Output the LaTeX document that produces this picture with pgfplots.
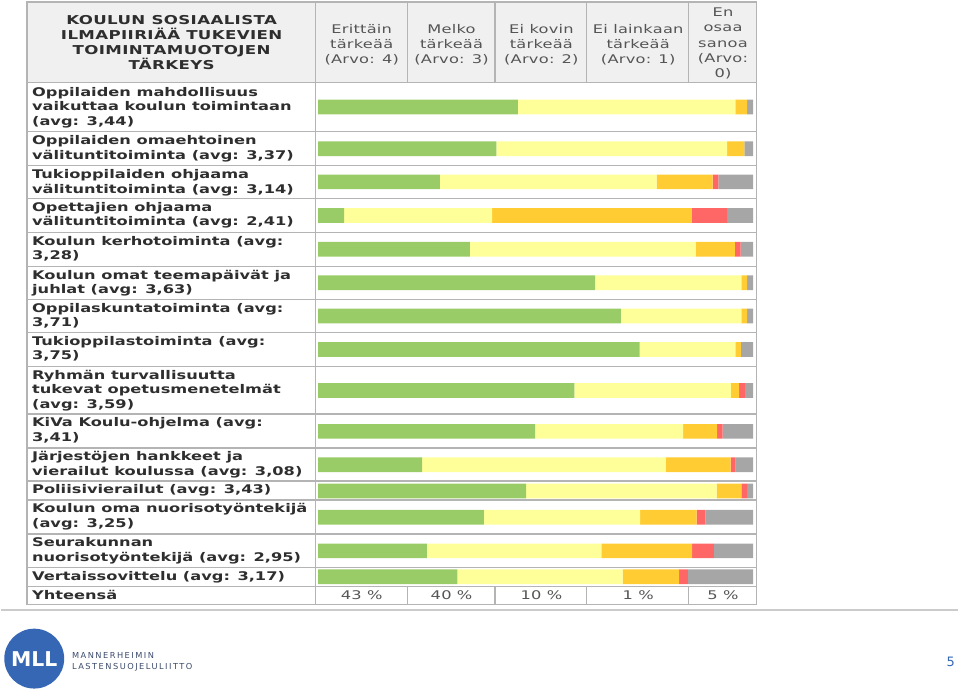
\documentclass[border=0pt]{standalone}
\usepackage{fontspec}
\setmainfont{DejaVu Sans}
\usepackage{pgfplots}
\usepackage{pgfplotstable}
\pgfplotsset{compat=1.18}
\definecolor{cgreen}{HTML}{99CC66}
\definecolor{cyellow}{HTML}{FFFF99}
\definecolor{corange}{HTML}{FFCC33}
\definecolor{cred}{HTML}{FF6666}
\definecolor{cgray}{HTML}{A6A6A6}
\definecolor{gridc}{HTML}{B4B4B4}
\definecolor{hdr}{HTML}{F0F0F0}
\definecolor{txt}{HTML}{2E2E2E}
\definecolor{htxt}{HTML}{555555}
\definecolor{mllblue}{HTML}{3567B5}
\definecolor{mlltxt}{HTML}{3B4A6B}
\newfontfamily\lblfamily[FakeStretch=1.36]{DejaVu Sans}
\newfontfamily\hdrfamily[FakeStretch=1.36, LetterSpace=3]{DejaVu Sans}
\newfontfamily\colfamily[FakeStretch=1.36, LetterSpace=2]{DejaVu Sans}
\newfontfamily\logofamily[LetterSpace=18]{DejaVu Sans}
\newcommand{\lbl}{\lblfamily\bfseries\fontsize{12}{14.7}\selectfont}
\newcommand{\hdrl}{\hdrfamily\bfseries\fontsize{12.3}{15}\selectfont}
\newcommand{\hlbl}{\colfamily\fontsize{12}{15.2}\selectfont}

\pgfplotstableread{
yimg  green yellow orange red gray
107.3 45.9 50.0 2.7 0 1.4
149.0 41.0 53.0 4.0 0 2.0
182.3 28.0 49.8 12.9 1.3 8.0
216.0 6.0 34.0 45.9 8.1 6.0
249.7 34.9 51.9 9.0 1.3 2.9
283.3 63.7 33.6 1.3 0 1.4
316.7 69.6 27.7 1.3 0 1.4
350.3 73.9 22.0 1.3 0 2.8
391.3 58.9 36.0 1.9 1.3 1.9
432.3 49.9 34.0 7.8 1.3 7.0
465.7 23.9 56.0 14.9 1.2 4.0
492.0 47.8 43.8 5.7 1.3 1.4
518.3 38.1 35.9 13.0 2.0 11.0
552.0 25.0 40.1 20.9 5.0 9.0
578.0 32.0 38.0 13.0 2.0 15.0
}\data

\begin{document}
\begin{tikzpicture}[x=1bp,y=1bp]
\path (0,0) rectangle (959,695);
% header background
\fill[hdr] (26,695-2) rectangle (757,695-83);

\begin{axis}[at={(317.7bp,89bp)}, anchor=south west, scale only axis,
  width=436bp, height=523bp, xmin=0, xmax=100, ymin=89, ymax=612,
  axis lines=none, xbar stacked, bar width=14.7, clip=false]
\addplot[fill=cgreen, draw=none] table[x=green, y expr=695-\thisrow{yimg}] {\data};
\addplot[fill=cyellow, draw=none] table[x=yellow, y expr=695-\thisrow{yimg}] {\data};
\addplot[fill=corange, draw=none] table[x=orange, y expr=695-\thisrow{yimg}] {\data};
\addplot[fill=cred, draw=none] table[x=red, y expr=695-\thisrow{yimg}] {\data};
\addplot[fill=cgray, draw=none] table[x=gray, y expr=695-\thisrow{yimg}] {\data};
\end{axis}

% grid
\begin{scope}[draw=gridc, line width=1.3bp]
\draw (26,695-2) rectangle (757,695-606);
\draw (315,695-2) -- (315,695-606);
\foreach \r in {83,132,166,199,233,267,300,333,367,415,449,482,501,535,569,588}
  \draw (26,695-\r) -- (757,695-\r);
\foreach \c in {407,495,587,689} {
  \draw (\c,695-2) -- (\c,695-83);
  \draw (\c,695-588) -- (\c,695-606);
}
\end{scope}

% header texts
\node[align=center, font=\hdrl, text=txt, anchor=north, inner sep=0] at (171,695-15.5) {KOULUN SOSIAALISTA\\ILMAPIIRIÄÄ TUKEVIEN\\TOIMINTAMUOTOJEN\\TÄRKEYS};
\begin{scope}[every node/.style={align=center, font=\hlbl, text=htxt, anchor=north, inner sep=0}]
\node at (361.5,695-24) {Erittäin\\tärkeää\\(Arvo: 4)};
\node at (451.5,695-24) {Melko\\tärkeää\\(Arvo: 3)};
\node at (541.5,695-24) {Ei kovin\\tärkeää\\(Arvo: 2)};
\node at (638.5,695-24) {Ei lainkaan\\tärkeää\\(Arvo: 1)};
\node at (723.5,695-8) {En\\osaa\\sanoa\\(Arvo:\\0)};
\end{scope}

% row labels
\begin{scope}[every node/.style={align=left, font=\lbl, text=txt, anchor=north west, inner sep=0}]
\node at (31,695-87) {Oppilaiden mahdollisuus\\vaikuttaa koulun toimintaan\\(avg: 3,44)};
\node at (31,695-135.5) {Oppilaiden omaehtoinen\\välituntitoiminta (avg: 3,37)};
\node at (31,695-169.5) {Tukioppilaiden ohjaama\\välituntitoiminta (avg: 3,14)};
\node at (31,695-202.5) {Opettajien ohjaama\\välituntitoiminta (avg: 2,41)};
\node at (31,695-236.5) {Koulun kerhotoiminta (avg:\\3,28)};
\node at (31,695-270.5) {Koulun omat teemapäivät ja\\juhlat (avg: 3,63)};
\node at (31,695-303.5) {Oppilaskuntatoiminta (avg:\\3,71)};
\node at (31,695-336.5) {Tukioppilastoiminta (avg:\\3,75)};
\node at (31,695-370.5) {Ryhmän turvallisuutta\\tukevat opetusmenetelmät\\(avg: 3,59)};
\node at (31,695-418.5) {KiVa Koulu-ohjelma (avg:\\3,41)};
\node at (31,695-452.5) {Järjestöjen hankkeet ja\\vierailut koulussa (avg: 3,08)};
\node at (31,695-485.5) {Poliisivierailut (avg: 3,43)};
\node at (31,695-504.5) {Koulun oma nuorisotyöntekijä\\(avg: 3,25)};
\node at (31,695-538.5) {Seurakunnan\\nuorisotyöntekijä (avg: 2,95)};
\node at (31,695-572.5) {Vertaissovittelu (avg: 3,17)};
\node at (31,695-591.5) {Yhteensä};
\end{scope}

% totals
\begin{scope}[every node/.style={font=\hlbl, text=htxt, anchor=base, inner sep=0}]
\node at (361.5,695-600.5) {43 \%};
\node at (451.5,695-600.5) {40 \%};
\node at (541.5,695-600.5) {10 \%};
\node at (638.5,695-600.5) {1 \%};
\node at (723.5,695-600.5) {5 \%};
\end{scope}

% footer
\draw[draw=gridc!70, line width=2bp] (0,695-611) -- (959,695-611);
\fill[mllblue] (33.3,695-660) circle (30);
\node[text=white, font=\bfseries\fontsize{20.5}{20.5}\selectfont, inner sep=0] at (33.3,695-660) {MLL};
\node[align=left, anchor=west, text=mlltxt, font=\logofamily\fontsize{8.3}{11}\selectfont, inner sep=0] at (71,695-663.5) {MANNERHEIMIN\\LASTENSUOJELULIITTO};
\node[text=mllblue, font=\fontsize{13}{13}\selectfont, inner sep=0] at (951.7,695-663) {5};
\end{tikzpicture}
\end{document}
